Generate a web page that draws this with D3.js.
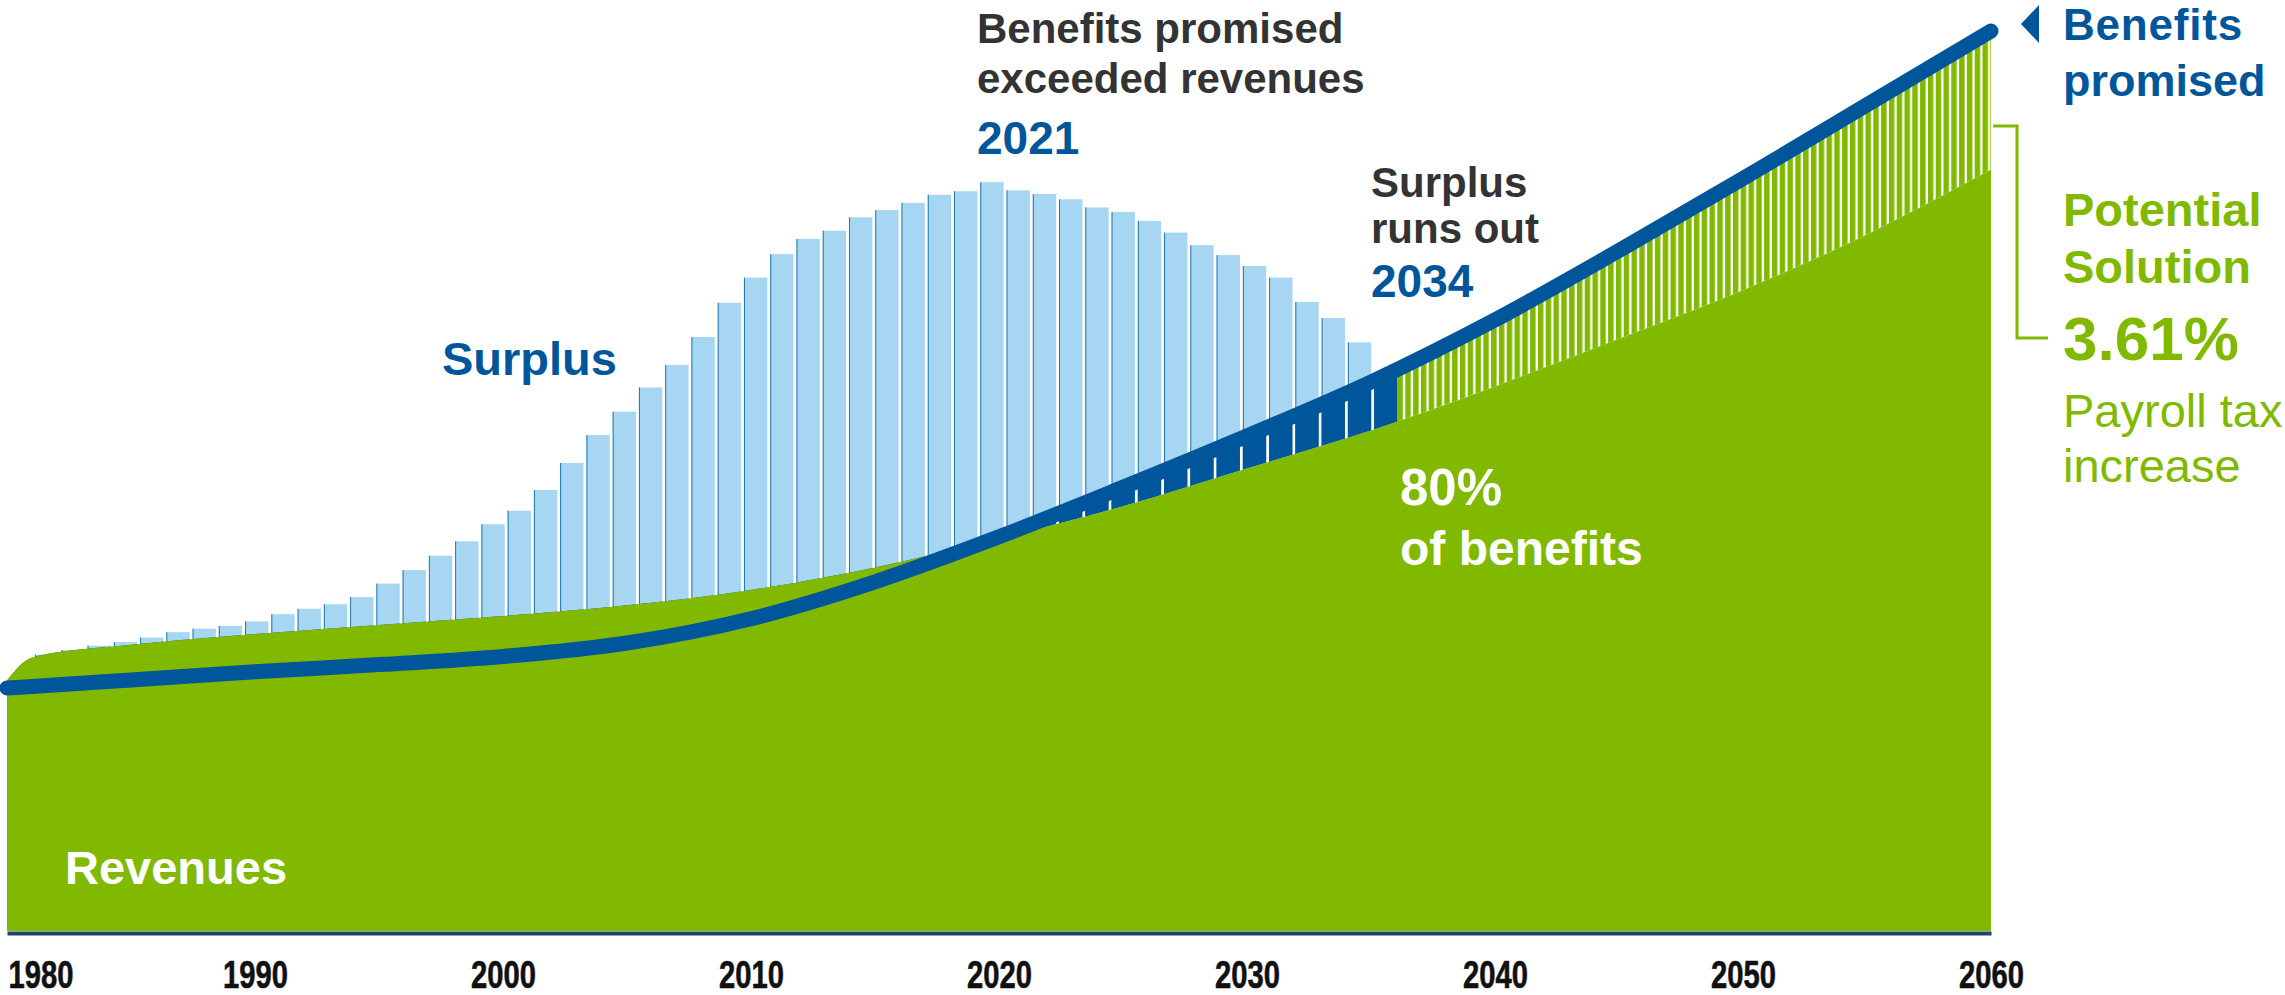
<!DOCTYPE html>
<html>
<head>
<meta charset="utf-8">
<script src="https://cdn.jsdelivr.net/npm/d3@7"></script>
<style>
  body { margin: 0; background: #fff; }
  svg { display: block; font-family: "Liberation Sans", Arial, sans-serif; }
</style>
</head>
<body>
<div id="chart"></div>
<script>
// surplus bars, one per year (index units, 100 = benefits promised in 2060)
const barYears = [1983, 1984, 1985, 1986, 1987, 1988, 1989, 1990, 1991, 1992,
  1993, 1994, 1995, 1996, 1997, 1998, 1999, 2000, 2001, 2002,
  2003, 2004, 2005, 2006, 2007, 2008, 2009, 2010, 2011, 2012,
  2013, 2014, 2015, 2016, 2017, 2018, 2019, 2020, 2021, 2022,
  2023, 2024, 2025, 2026, 2027, 2028, 2029, 2030, 2031, 2032,
  2033, 2034]
const surplus = [30.7, 31.2, 31.7, 32.1, 32.6, 33.2, 33.6, 33.9, 34.4, 35.2,
  35.8, 36.3, 37.1, 38.6, 40.1, 41.7, 43.3, 45.2, 46.7, 49.0,
  52.0, 55.1, 57.7, 60.4, 62.9, 66.0, 69.8, 72.6, 75.2, 76.9,
  77.8, 79.3, 80.1, 80.9, 81.8, 82.2, 83.2, 82.3, 81.9, 81.3,
  80.4, 79.9, 78.9, 77.6, 76.2, 75.1, 73.9, 72.6, 69.9, 68.1,
  65.4, 61.0]

// revenues and benefits promised
const years = [1980, 1981, 1985, 1990, 1995, 2000, 2005, 2010, 2015, 2020,
  2025, 2030, 2035, 2040, 2045, 2050, 2055, 2060]
const revenues = [27.9, 30.4, 31.8, 33.0, 34.0, 35.0, 36.2, 37.9, 40.4, 43.6,
  47.2, 51.4, 55.6, 60.5, 65.8, 71.2, 77.4, 84.6]
const benefits = [27.0, 27.17, 27.9, 28.8, 29.6, 30.5, 32.0, 34.7, 38.8, 43.8,
  49.3, 55.0, 61.0, 67.9, 75.6, 83.6, 91.8, 100]

const tickYears = [1980, 1990, 2000, 2010, 2020, 2030, 2040, 2050, 2060]

const width = 2285
const height = 995
const baseY = 931

const GREEN = "#80b900"
const NAVY = "#00569a"
const LIGHT = "#a7d6f3"
const GREY = "#333333"

const bars = barYears.map((year, i) => ({year, value: surplus[i]}))
const series = years.map((year, i) => ({year, rev: revenues[i], ben: benefits[i]}))

const svg = d3.select("#chart")
  .append("svg")
  .attr("width", width)
  .attr("height", height)
  .attr("viewBox", [0, 0, width, height])

const x = d3.scaleLinear()
  .domain([1980, 2060])
  .range([7, 1991])

const xb = d3.scaleBand()
  .domain(barYears)
  .range([35, 1397.5])
  .paddingInner(0.11)
  .paddingOuter(0)

const y = d3.scaleLinear()
  .domain([0, 100])
  .range([baseY, 31])

const defs = svg.append("defs")

// columns of the bars, used to cut the deficit band into strips
defs.append("clipPath")
  .attr("id", "bar-cols")
  .selectAll("rect")
  .data(bars)
  .join("rect")
  .attr("x", d => xb(d.year))
  .attr("y", 0)
  .attr("width", xb.bandwidth())
  .attr("height", baseY)

const hatchStart = xb(barYears[barYears.length - 1]) + xb.bandwidth()

defs.append("clipPath")
  .attr("id", "after-surplus")
  .append("rect")
  .attr("x", hatchStart)
  .attr("y", 0)
  .attr("width", x(2060) - hatchStart)
  .attr("height", baseY)

const pat = defs.append("pattern")
  .attr("id", "hatch")
  .attr("patternUnits", "userSpaceOnUse")
  .attr("x", hatchStart)
  .attr("y", 0)
  .attr("width", 7.8)
  .attr("height", 10)
pat.append("rect")
  .attr("width", 5.5)
  .attr("height", 10)
  .attr("fill", GREEN)

const layer_bars = svg.append("g")
const layer_gap = svg.append("g")
const layer_rev = svg.append("g")
const layer_axis = svg.append("g")
const layer_line = svg.append("g")
const layer_text = svg.append("g")

layer_bars.selectAll("rect")
  .data(bars)
  .join("rect")
  .attr("x", d => xb(d.year))
  .attr("y", d => y(d.value))
  .attr("width", xb.bandwidth())
  .attr("height", d => y(0) - y(d.value))
  .attr("fill", LIGHT)

layer_bars.selectAll("line")
  .data(bars)
  .join("line")
  .attr("x1", d => xb(d.year) + 0.5)
  .attr("x2", d => xb(d.year) + 0.5)
  .attr("y1", d => y(d.value))
  .attr("y2", baseY)
  .attr("stroke", "#1f78ad")
  .attr("stroke-width", 1)

const gapArea = d3.area()
  .x(d => x(d.year))
  .y0(d => y(d.rev))
  .y1(d => y(d.ben))
  .curve(d3.curveMonotoneX)

layer_gap.append("path")
  .datum(series)
  .attr("d", gapArea)
  .attr("fill", NAVY)
  .attr("clip-path", "url(#bar-cols)")

layer_gap.append("path")
  .datum(series)
  .attr("d", gapArea)
  .attr("fill", "url(#hatch)")
  .attr("clip-path", "url(#after-surplus)")

layer_rev.append("path")
  .datum(series)
  .attr("d", d3.area()
    .x(d => x(d.year))
    .y0(y(0))
    .y1(d => y(d.rev))
    .curve(d3.curveMonotoneX))
  .attr("fill", GREEN)

layer_axis
  .attr("transform", `translate(0,${baseY + 2})`)
  .call(d3.axisBottom(x).tickValues(tickYears).tickFormat(d3.format("d")).tickSize(0).tickSizeOuter(0))
  .call(g => g.attr("font-family", null).attr("font-size", null))
  .call(g => g.select(".domain").attr("stroke", "#1d456a").attr("stroke-width", 4))
  .call(g => g.selectAll(".tick text")
    .attr("y", 55)
    .attr("dy", null)
    .attr("fill", "#111")
    .attr("font-size", 38)
    .attr("font-weight", "bold")
    .attr("stroke", "#111")
    .attr("stroke-width", 0.6)
    .attr("textLength", 65)
    .attr("lengthAdjust", "spacingAndGlyphs"))
  .call(g => g.select(".tick:first-of-type text")
    .attr("text-anchor", "start")
    .attr("x", 1))

layer_line.append("path")
  .datum(series)
  .attr("d", d3.line()
    .x(d => x(d.year))
    .y(d => y(d.ben))
    .curve(d3.curveMonotoneX))
  .attr("fill", "none")
  .attr("stroke", NAVY)
  .attr("stroke-width", 15)
  .attr("stroke-linecap", "round")

// bracket for the potential solution
layer_line.append("path")
  .attr("d", "M1993,126H2017V338H2048")
  .attr("fill", "none")
  .attr("stroke", GREEN)
  .attr("stroke-width", 3)

layer_line.append("path")
  .attr("d", "M2021,24L2039,5V43Z")
  .attr("fill", NAVY)

const label = (txt, px, py, size, color, weight = "bold") =>
  layer_text.append("text")
    .attr("x", px)
    .attr("y", py)
    .attr("font-size", size)
    .attr("font-weight", weight)
    .attr("fill", color)
    .text(txt)

label("Benefits promised", 977, 43, 42, GREY)
label("exceeded revenues", 977, 93, 42, GREY)
label("2021", 977, 154, 46, NAVY)

label("Surplus", 1371, 197, 42, GREY)
label("runs out", 1371, 243, 42, GREY)
label("2034", 1371, 297, 46, NAVY)

label("Surplus", 442, 375, 47, NAVY)
label("Revenues", 65, 884, 47, "#fff")
label("80%", 1400, 505, 51, "#fff")
label("of benefits", 1400, 565, 48, "#fff")

label("Benefits", 2063, 40, 44, NAVY).attr("letter-spacing", 0.8)
label("promised", 2063, 96, 45, NAVY)
label("Potential", 2063, 226, 47, GREEN)
label("Solution", 2063, 283, 47, GREEN)
label("3.61%", 2063, 360, 62, GREEN)
label("Payroll tax", 2063, 427, 47, GREEN, "normal")
label("increase", 2063, 482, 47, GREEN, "normal")
</script>
</body>
</html>
